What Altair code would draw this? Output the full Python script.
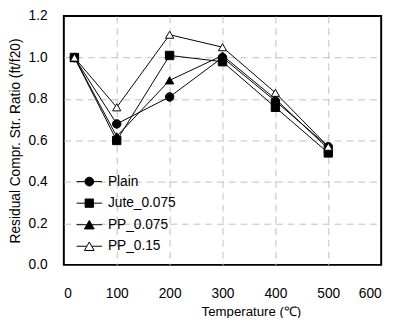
import altair as alt
import pandas as pd

temps = [20, 100, 200, 300, 400, 500]
series_names = ["Plain", "Jute_0.075", "PP_0.075", "PP_0.15"]
plain = [1.00, 0.68, 0.81, 1.00, 0.79, 0.57]
jute_0075 = [1.00, 0.60, 1.01, 0.98, 0.76, 0.54]
pp_0075 = [1.00, 0.62, 0.89, 1.01, 0.80, 0.56]
pp_015 = [1.00, 0.76, 1.11, 1.05, 0.83, 0.57]

rows = []
for name, vals in zip(series_names, [plain, jute_0075, pp_0075, pp_015]):
    for t, v in zip(temps, vals):
        rows.append({"series": name, "T": t, "ratio": v})
df = pd.DataFrame(rows)

FONT = "Liberation Sans"
fills = ["black", "black", "black", "white"]

PLOT_H = 254

x_grid_op = {"condition": {"test": "datum.value <= 0 || datum.value >= 600", "value": 0}, "value": 1}
y_grid_op = {"condition": {"test": "datum.value <= 0 || datum.value >= 1.2", "value": 0}, "value": 1}

x_enc = alt.X("T:Q", scale=alt.Scale(domain=[0, 600], nice=False),
              axis=alt.Axis(values=[0, 100, 200, 300, 400, 500, 600], title="Temperature (℃)",
                            labelPadding=22, titleX=191, titleY=48, titleAlign="center",
                            titleBaseline="middle", titleFontSize=13.5,
                            gridOpacity=x_grid_op))
y_enc = alt.Y("ratio:Q", scale=alt.Scale(domain=[0, 1.2], nice=False),
              axis=alt.Axis(values=[0, 0.2, 0.4, 0.6, 0.8, 1.0, 1.2], format=".1f",
                            title="Residual Compr. Str. Ratio (ft/f20)",
                            labelPadding=17, titleX=-49, titleY=127, titleAngle=270,
                            titleAlign="center", titleBaseline="middle", titleFontSize=14,
                            gridOpacity=y_grid_op))

base = alt.Chart(df)

lines = base.mark_line(color="black", strokeWidth=1).encode(
    x=x_enc, y=y_enc, detail="series:N", order="T:Q")

points = base.mark_point(filled=True, stroke="black", strokeWidth=1, opacity=1).encode(
    x=x_enc, y=y_enc,
    shape=alt.Shape("series:N", scale=alt.Scale(domain=series_names,
                    range=["circle", "square", "triangle-up", "triangle-up"]), legend=None),
    fill=alt.Fill("series:N", scale=alt.Scale(domain=series_names, range=fills), legend=None),
    size=alt.Size("series:N", scale=alt.Scale(domain=series_names, range=[75, 70, 100, 100]), legend=None),
)

circ = "M-2.6,0H-0.9M0.9,0H2.6M0.9,0A0.9,0.9 0 1 1 -0.9,0A0.9,0.9 0 1 1 0.9,0Z"
sq = "M-2.6,0H-0.85M0.85,0H2.6M-0.85,-0.85H0.85V0.85H-0.85Z"
tri = "M-2.6,0H-0.5M0.5,0H2.6M0,-0.866L1,0.866L-1,0.866Z"

legend_layer = base.transform_filter("datum.T < -1000").mark_point(
    filled=True, stroke="black", strokeWidth=1, opacity=1).encode(
    x=x_enc, y=y_enc,
    shape=alt.Shape("series:N", scale=alt.Scale(domain=series_names, range=[circ, sq, tri, tri]),
                    legend=alt.Legend(title=None)),
    fill=alt.Fill("series:N", scale=alt.Scale(domain=series_names, range=fills),
                  legend=alt.Legend(title=None)),
)

chart = alt.layer(lines, points, legend_layer).resolve_scale(
    shape="independent", fill="independent", size="independent"
).properties(
    width=324, height=PLOT_H,
    autosize=alt.AutoSizeParams(type="none"),
    padding={"left": 57, "top": 5, "right": 9, "bottom": 51},
).configure_view(
    stroke="black", strokeWidth=2
).configure_axis(
    grid=True, gridColor="#c0c0c0", gridDash=[7, 5], gridWidth=1,
    domain=False, ticks=False,
    labelFont=FONT, labelFontSize=14, labelColor="black",
    titleFont=FONT, titleColor="black", titleFontWeight="normal",
).configure_legend(
    orient="none", legendX=19, legendY=162, padding=0,
    symbolSize=100, symbolStrokeWidth=1,
    labelFont=FONT, labelFontSize=14, labelColor="black", labelOffset=12,
    rowPadding=8,
)

chart.save("out.html", embed_options={"renderer": "svg", "actions": False})
